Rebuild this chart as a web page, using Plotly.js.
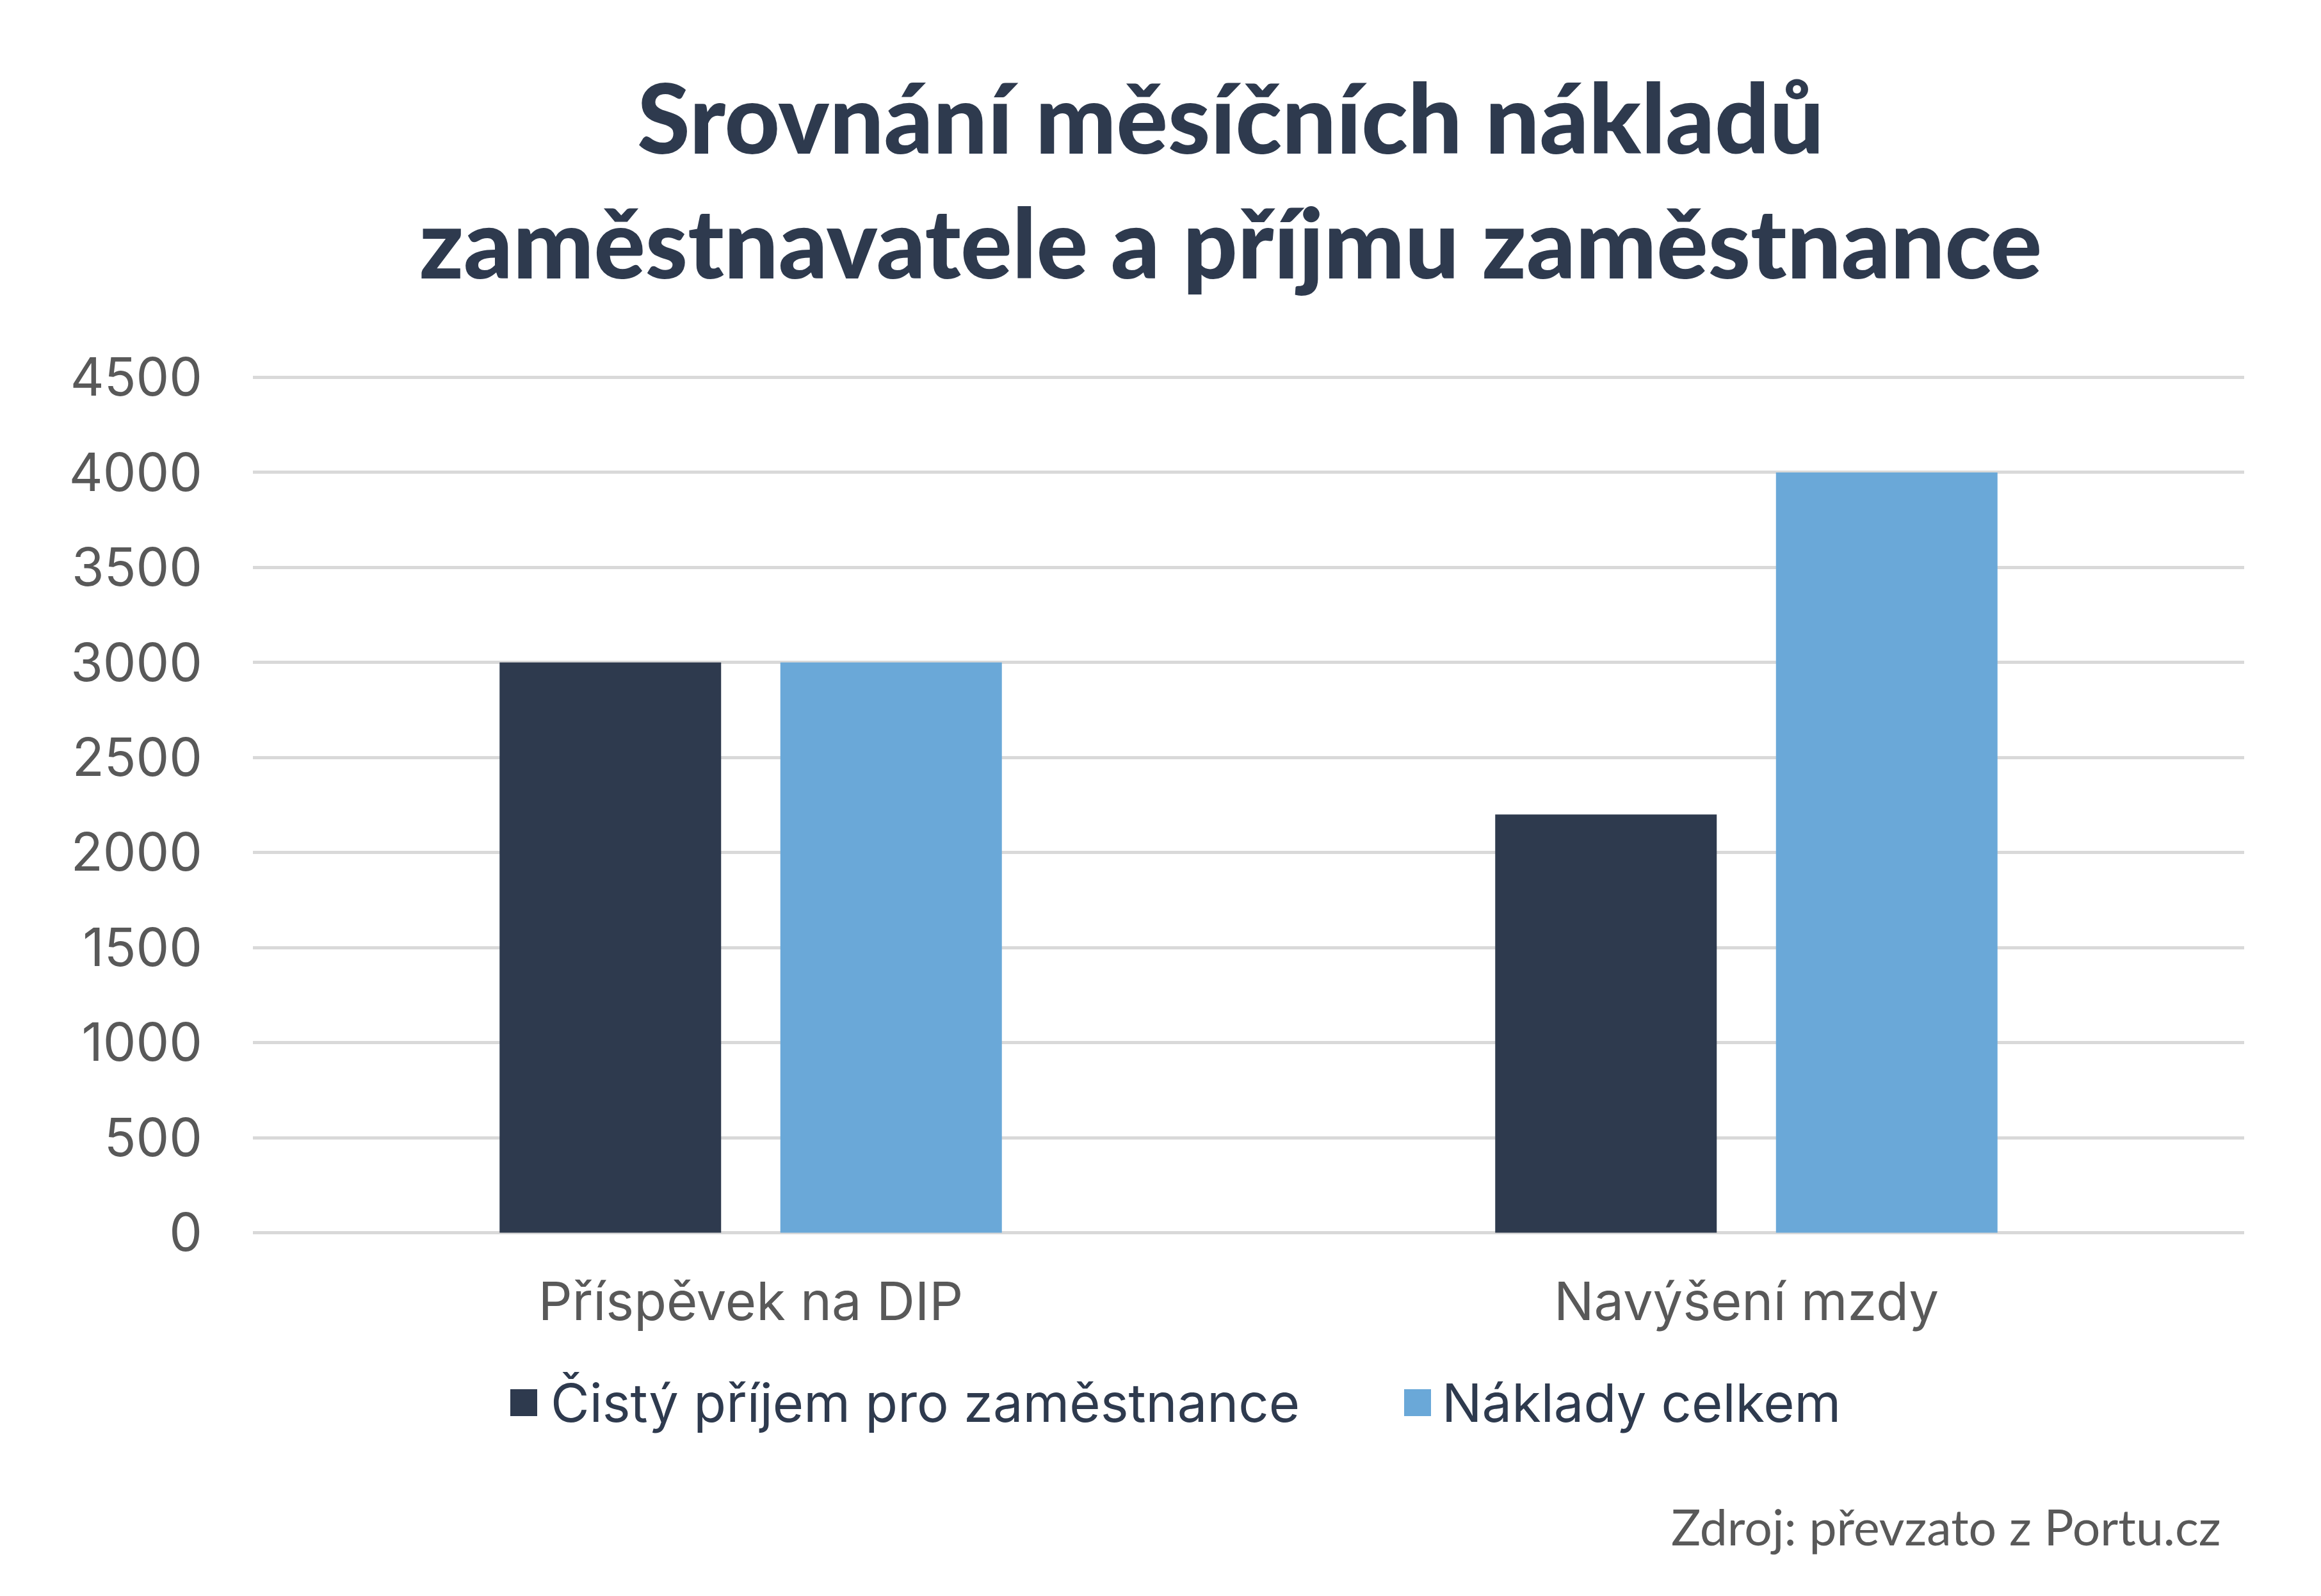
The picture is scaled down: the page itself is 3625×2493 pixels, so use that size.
<!DOCTYPE html>
<html>
<head>
<meta charset="utf-8">
<script src="https://cdn.plot.ly/plotly-3.1.0.min.js"></script>
<style>
  html, body { margin: 0; padding: 0; background: #fff; }
  #chart { width: 3625px; height: 2493px; }
</style>
</head>
<body>
<div id="chart"></div>
<script>
// data
const categories = ["Příspěvek na DIP", "Navýšení mzdy"];
const seriesNames = ["Čistý příjem pro zaměstnance", "Náklady celkem"];
const cistyPrijem = [3000, 2200];
const nakladyCelkem = [3000, 4000];
const yTicks = [0, 500, 1000, 1500, 2000, 2500, 3000, 3500, 4000, 4500];

const titleText = "Srovnání měsíčních nákladů<br>zaměstnavatele a příjmu zaměstnance";
const sourceText = "Zdroj: převzato z Portu.cz";

const colors = ["#2e3a4e", "#6aa8d8"];
const navy = "#2e3a4e";
const grey = "#595959";

const W = 3625, H = 2493;
// a little slack above/below so the 0 and 4500 grid lines get drawn
const M = { l: 395, r: 120, t: 586, b: 564 };

// pixel -> paper helpers (for layout bits only)
const px2x = px => (px - M.l) / (W - M.l - M.r);
const py2y = py => (H - M.b - py) / (H - M.t - M.b);

const traces = [cistyPrijem, nakladyCelkem].map((vals, i) => ({
    type: "bar",
    x: categories,
    y: vals,
    name: seriesNames[i],
    marker: { color: colors[i] },
    showlegend: false,
    hoverinfo: "skip"
}));

// hand-made legend: big squares + text
const legendItems = [
    { sq: 797, tx: 858 },
    { sq: 2193, tx: 2250 }
];
const legendY = 2191;
const sq = 42;

const shapes = legendItems.map((it, i) => ({
    type: "rect",
    xref: "paper", yref: "paper",
    x0: px2x(it.sq), x1: px2x(it.sq + sq),
    y0: py2y(legendY + sq / 2), y1: py2y(legendY - sq / 2),
    fillcolor: colors[i],
    line: { width: 0 }
}));

const annotations = legendItems.map((it, i) => ({
    xref: "paper", yref: "paper",
    x: px2x(it.tx), y: py2y(legendY),
    xanchor: "left", yanchor: "middle",
    text: seriesNames[i],
    showarrow: false,
    font: { family: "Inter, Roboto, sans-serif", size: 83, color: navy }
}));

annotations.push({
    xref: "paper", yref: "paper",
    x: px2x(3471), y: py2y(2384),
    xanchor: "right", yanchor: "middle",
    text: sourceText,
    showarrow: false,
    font: { family: "Lato, sans-serif", size: 77, color: grey }
});

const layout = {
    width: W,
    height: H,
    margin: M,
    paper_bgcolor: "#ffffff",
    plot_bgcolor: "#ffffff",
    title: {
        text: titleText,
        font: { family: "Lato, sans-serif", size: 150, color: navy, weight: 900 },
        xref: "paper",
        x: px2x(1922),
        xanchor: "center",
        yref: "container",
        y: 1 - 240 / H,
        yanchor: "middle"
    },
    barmode: "group",
    bargap: 0.436,
    bargroupgap: 0.211,
    showlegend: false,
    xaxis: {
        type: "category",
        showgrid: false,
        showline: false,
        zeroline: false,
        ticks: "",
        ticklabelstandoff: 49,
        tickfont: { family: "Inter, Roboto, sans-serif", size: 83, color: grey }
    },
    yaxis: {
        range: [-12, 4512],
        tickvals: yTicks,
        ticktext: yTicks.map(String),
        showgrid: true,
        gridcolor: "#d9d9d9",
        gridwidth: 5,
        zeroline: false,
        showline: false,
        ticks: "",
        ticklabelstandoff: 78,
        tickfont: { family: "Inter, Roboto, sans-serif", size: 82, color: grey }
    },
    shapes: shapes,
    annotations: annotations
};

Plotly.newPlot("chart", traces, layout, { staticPlot: true });
</script>
</body>
</html>
